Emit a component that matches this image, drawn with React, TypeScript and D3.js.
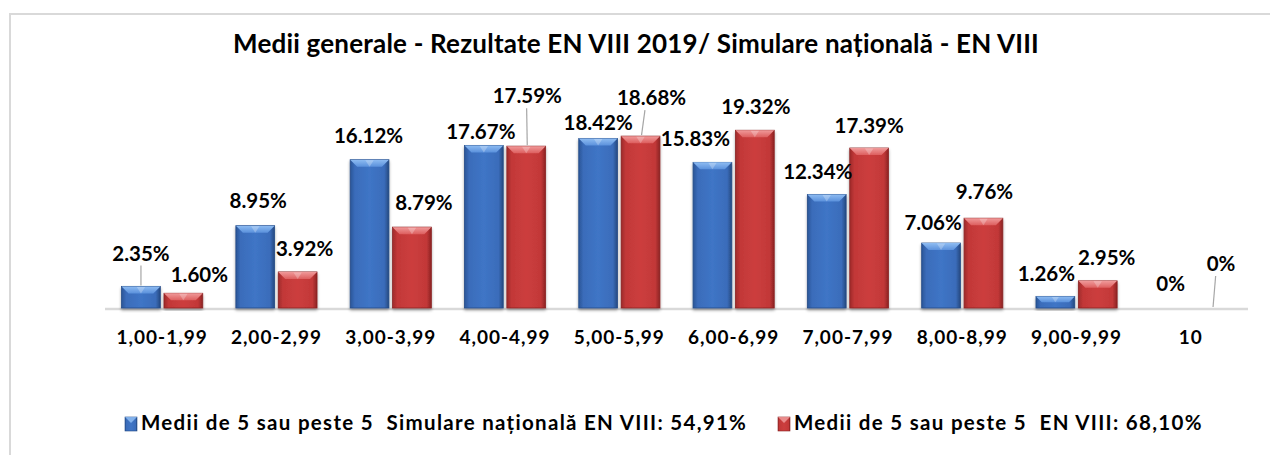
import React from "react";
import * as d3 from "d3";

const categories = ["1,00-1,99", "2,00-2,99", "3,00-3,99", "4,00-4,99", "5,00-5,99", "6,00-6,99", "7,00-7,99", "8,00-8,99", "9,00-9,99", "10"];
const simulareValues = [2.35, 8.95, 16.12, 17.67, 18.42, 15.83, 12.34, 7.06, 1.26, 0];
const enViiiValues = [1.6, 3.92, 8.79, 17.59, 18.68, 19.32, 17.39, 9.76, 2.95, 0];
const simulareLabels = ["2.35%", "8.95%", "16.12%", "17.67%", "18.42%", "15.83%", "12.34%", "7.06%", "1.26%", "0%"];
const enViiiLabels = ["1.60%", "3.92%", "8.79%", "17.59%", "18.68%", "19.32%", "17.39%", "9.76%", "2.95%", "0%"];
const seriesNames = [
  "Medii de 5 sau peste 5  Simulare națională EN VIII: 54,91%",
  "Medii de 5 sau peste 5  EN VIII: 68,10%",
];
const title = "Medii generale - Rezultate EN VIII 2019/ Simulare națională - EN VIII";

// label nudges (dx, dy from bar top centre to label centre) and leader flags
const simulareNudge: [number, number, boolean][] = [
  [0, -34, true], [3, -26, false], [-1, -25, false], [-3, -15, false], [0, -17, false],
  [-17, -25, false], [-9, -24, false], [-8, -21, false], [-9, -24, false], [1, -25, false],
];
const enViiiNudge: [number, number, boolean][] = [
  [16, -20, false], [7, -24, false], [12, -25, false], [1, -51, true], [11, -39, true],
  [1, -25, false], [0, -23, false], [1, -27, false], [9, -24, false], [9, -45, true],
];

const FONT = "Lato, 'Open Sans', sans-serif";

const W = 1270;
const H = 455;

export default function App() {
  const x0 = d3
    .scaleBand<string>()
    .domain(categories)
    .range([105, 1248])
    .paddingInner(0.29)
    .paddingOuter(0.145);
  const x1 = d3
    .scaleBand<number>()
    .domain([0, 1])
    .range([0, x0.bandwidth()])
    .paddingInner(0.086);
  const y = d3.scaleLinear().domain([0, 20]).range([308, 124]);

  const series = [
    { values: simulareValues, labels: simulareLabels, nudge: simulareNudge, grad: "gBlue", bev: "gBlueTop", side: "#244b87" },
    { values: enViiiValues, labels: enViiiLabels, nudge: enViiiNudge, grad: "gRed", bev: "gRedTop", side: "#8a2222" },
  ];

  const legendX = [125, 778];

  return (
    <svg width={W} height={H} style={{ position: "absolute", left: 0, top: 0, background: "#fff" }}>
      <defs>
        <linearGradient id="gBlue" x1="0" x2="1" y1="0" y2="0">
          <stop offset="0" stopColor="#2a5597" />
          <stop offset="0.12" stopColor="#3a6cba" />
          <stop offset="0.5" stopColor="#3f75c6" />
          <stop offset="0.88" stopColor="#3a6cba" />
          <stop offset="1" stopColor="#25497f" />
        </linearGradient>
        <linearGradient id="gBlueTop" x1="0" x2="0" y1="0" y2="1">
          <stop offset="0" stopColor="#8ebcf2" />
          <stop offset="1" stopColor="#5b91dc" />
        </linearGradient>
        <linearGradient id="gRed" x1="0" x2="1" y1="0" y2="0">
          <stop offset="0" stopColor="#9e2a2a" />
          <stop offset="0.12" stopColor="#c23838" />
          <stop offset="0.5" stopColor="#cc3e3e" />
          <stop offset="0.88" stopColor="#c23838" />
          <stop offset="1" stopColor="#8c2323" />
        </linearGradient>
        <linearGradient id="gRedTop" x1="0" x2="0" y1="0" y2="1">
          <stop offset="0" stopColor="#f09a9a" />
          <stop offset="1" stopColor="#dd5f5f" />
        </linearGradient>
        <filter id="shadow" x="-20%" y="-20%" width="140%" height="140%">
          <feGaussianBlur in="SourceAlpha" stdDeviation="1.5" />
          <feOffset dx="0" dy="1.5" result="b" />
          <feComponentTransfer>
            <feFuncA type="linear" slope="0.35" />
          </feComponentTransfer>
          <feMerge>
            <feMergeNode />
            <feMergeNode in="SourceGraphic" />
          </feMerge>
        </filter>
      </defs>

      {/* chart border */}
      <rect x={10} y={14} width={1275} height={460} fill="#fff" stroke="#d9d9d9" strokeWidth={2} />

      {/* title */}
      <text x={636} y={46} textAnchor="middle" dominantBaseline="middle" fontFamily={FONT} fontWeight={700} fontSize={26} letterSpacing={0.2} fill="#000">
        {title}
      </text>

      {/* axis line */}
      <line x1={105} x2={1248} y1={y(0) + 1} y2={y(0) + 1} stroke="#d9d9d9" strokeWidth={2.5} />

      {/* bars */}
      {categories.map((c, i) => (
        <g key={c}>
          {series.map((s, k) => {
            const v = s.values[i];
            if (v <= 0) return null;
            const bx = (x0(c) ?? 0) + (x1(k) ?? 0);
            const bw = x1.bandwidth();
            const top = y(v);
            const h = y(0) - top;
            const bev = Math.min(7, h / 2);
            return (
              <g key={k} filter="url(#shadow)">
                <rect x={bx} y={top} width={bw} height={h} fill={`url(#${s.grad})`} stroke={s.side} strokeWidth={0.8} />
                <polygon
                  points={`${bx},${top} ${bx + bw},${top} ${bx + bw - bev},${top + bev} ${bx + bev},${top + bev}`}
                  fill={`url(#${s.bev})`}
                />
                <polygon
                  points={`${bx + bw / 2 - bev * 0.6},${top + 0.5} ${bx + bw / 2 + bev * 0.6},${top + 0.5} ${bx + bw / 2},${top + bev}`}
                  fill="#fff"
                  opacity={0.25}
                />
              </g>
            );
          })}
        </g>
      ))}

      {/* data labels */}
      {categories.map((c, i) => (
        <g key={"l" + c}>
          {series.map((s, k) => {
            const v = s.values[i];
            const cx = (x0(c) ?? 0) + (x1(k) ?? 0) + x1.bandwidth() / 2;
            const top = y(v);
            const [dx, dy, leader] = s.nudge[i];
            const lx = cx + dx;
            const ly = top + dy;
            return (
              <g key={k}>
                {leader && (
                  <line
                    x1={cx + dx * 0.4}
                    y1={ly + 13}
                    x2={cx + (dx > 0 ? 1 : 0)}
                    y2={top - 1}
                    stroke="#a6a6a6"
                    strokeWidth={1.2}
                  />
                )}
                <text x={lx} y={ly + 3} textAnchor="middle" dominantBaseline="middle" fontFamily={FONT} fontWeight={700} fontSize={20.5} fill="#000">
                  {s.labels[i]}
                </text>
              </g>
            );
          })}
        </g>
      ))}

      {/* category labels */}
      {categories.map((c) => (
        <text key={"c" + c} x={(x0(c) ?? 0) + x0.bandwidth() / 2} y={339} textAnchor="middle" dominantBaseline="middle" fontFamily={FONT} fontWeight={700} fontSize={19} letterSpacing={1} fill="#000">
          {c}
        </text>
      ))}

      {/* legend */}
      {seriesNames.map((n, k) => {
        const lx = legendX[k];
        return (
          <g key={"lg" + k}>
            <rect x={lx} y={417} width={12} height={14} fill={k === 0 ? "url(#gBlue)" : "url(#gRed)"} stroke={k === 0 ? "#244b87" : "#8a2222"} strokeWidth={0.6} />
            <polygon points={`${lx},417 ${lx + 12},417 ${lx + 6},423`} fill={k === 0 ? "#8ebcf2" : "#f09a9a"} opacity={0.85} />
            <text x={lx + 16} y={425} dominantBaseline="middle" fontFamily={FONT} fontWeight={700} fontSize={20.5} letterSpacing={1.3} fill="#000" style={{ whiteSpace: "pre" }}>
              {n}
            </text>
          </g>
        );
      })}
    </svg>
  );
}
